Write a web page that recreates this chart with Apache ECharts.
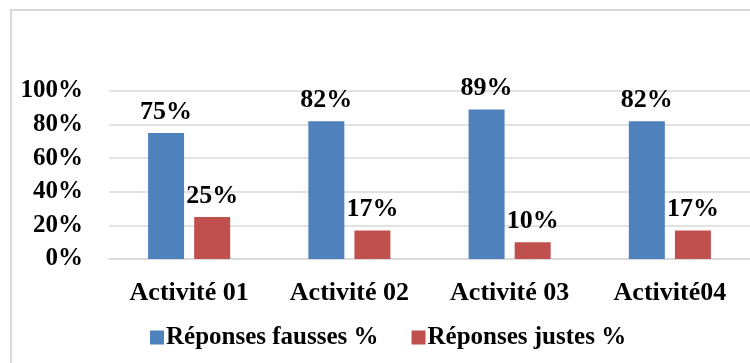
<!DOCTYPE html>
<html>
<head>
<meta charset="utf-8">
<script src="https://cdn.jsdelivr.net/npm/echarts@6/dist/echarts.min.js"></script>
<style>html,body{margin:0;padding:0;background:#fff}#c{width:750px;height:363px}</style>
</head>
<body>
<div id="c"></div>
<script>
const categories = ['Activité 01', 'Activité 02', 'Activité 03', 'Activité04'];
const seriesNames = ['Réponses fausses %', 'Réponses justes %'];
const fausses = [75, 82, 89, 82];
const justes = [25, 17, 10, 17];
const yTicks = [0, 20, 40, 60, 80, 100];

const font = 'Liberation Serif';
const chart = echarts.init(document.getElementById('c'), null, {renderer: 'canvas'});
const labelStyle = {
  show: true, position: 'top', distance: 8,
  formatter: '{c}%', fontFamily: font, fontWeight: 'bold', fontSize: 26, color: '#000'
};
chart.setOption({
  animation: false,
  backgroundColor: '#fff',
  graphic: [{
    type: 'rect', shape: {x: 11, y: 10, width: 760, height: 380},
    style: {fill: 'none', stroke: '#D9D9D9', lineWidth: 2}, silent: true, z: -1
  }],
  grid: {left: 109, right: -10, top: 91, bottom: 104, containLabel: false},
  legend: {
    data: seriesNames, left: 145, top: 320, itemWidth: 14, itemHeight: 14, itemGap: 33,
    icon: 'rect',
    textStyle: {fontFamily: font, fontWeight: 'bold', fontSize: 25, color: '#000', padding: [0, 0, 0, -3]}
  },
  xAxis: {
    type: 'category', data: categories,
    axisLine: {show: true, lineStyle: {color: '#D9D9D9', width: 1.5}},
    axisTick: {show: false},
    axisLabel: {fontFamily: font, fontWeight: 'bold', fontSize: 26, color: '#000', margin: 21}
  },
  yAxis: {
    type: 'value', min: yTicks[0], max: yTicks[yTicks.length - 1], interval: 20,
    axisLine: {show: false}, axisTick: {show: false},
    splitLine: {lineStyle: {color: '#D9D9D9', width: 1.5}},
    axisLabel: {formatter: '{value}%', fontFamily: font, fontWeight: 'bold', fontSize: 25, color: '#000', margin: 26}
  },
  series: [
    {name: seriesNames[0], type: 'bar', data: fausses, barWidth: 36, barGap: '28%',
     itemStyle: {color: '#4F81BD'}, label: labelStyle},
    {name: seriesNames[1], type: 'bar', data: justes, barWidth: 36,
     itemStyle: {color: '#C0504D'}, label: labelStyle}
  ]
});
</script>
</body>
</html>
